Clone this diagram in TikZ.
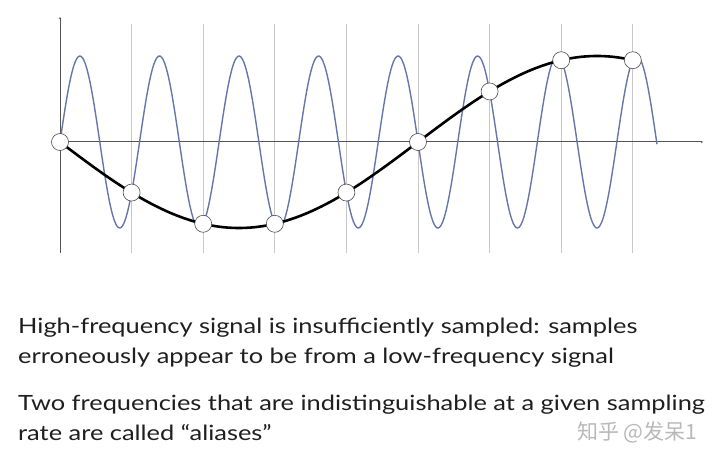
\documentclass[tikz,border=0pt]{standalone}
\usepackage{fontspec}
\setmainfont{Lato}[FakeStretch=1.21]
\newfontfamily\cjkfont{Noto Sans CJK SC}
\usepackage{xcolor}
\usepackage{tikz}
\usetikzlibrary{arrows.meta, positioning, calc}
\definecolor{sigblue}{RGB}{102,118,170}
\definecolor{axisgray}{RGB}{85,85,85}
\definecolor{gridgray}{RGB}{200,200,200}

\begin{document}
\begin{tikzpicture}[x=1pt, y=1pt,
        sample/.style={circle, draw=black!70, fill=white, line width=0.6pt, minimum size=17pt, inner sep=0pt},
        caption/.style={anchor=base west, align=left, inner sep=0pt, text=black!88, font=\fontsize{21}{30}\selectfont}]
        \useasboundingbox (-60,-318) rectangle (660,142);
        % grid at the sample positions
        \foreach \n in {1,...,8}
            \draw[gridgray, line width=1pt] (71.6*\n,-111) -- (71.6*\n,118);
        \coordinate (o) at (0,0);
        \coordinate (ytop) at (0,125);
        \coordinate (ybot) at (0,-111);
        \coordinate (xend) at (643,0);
        \draw[axisgray, line width=1pt, -{Stealth[length=2pt, width=2pt]}] (ybot) -- (ytop);
        \draw[axisgray, line width=1pt, -{Stealth[length=2pt, width=2pt]}] (o) -- (xend);
        % high-frequency signal (324 deg per sample step)
        \draw[sigblue, line width=1.4pt, samples=400, domain=0:597]
            plot (\x, {86*sin(4.52514*\x)});
        % low-frequency alias (36 deg per sample step)
        \draw[black, line width=2.6pt, samples=200, domain=0:572.8]
            plot (\x, {-86*sin(0.502793*\x)});
        \foreach \n in {0,...,8}
            \node[sample] (s\n) at (71.6*\n, {-86*sin(36*\n)}) {};

        % base anchor sits on the last line
        \node[caption] (txt1) at (-42,-221) {High-frequency signal is insufficiently sampled: samples\\erroneously appear to be from a low-frequency signal};
        \node[caption] (txt2) at (-42,-298) {Two frequencies that are indistinguishable at a given sampling\\rate are called “aliases”};
        \node[anchor=west, inner sep=0pt, text=black!28, font=\cjkfont\fontsize{21}{21}\selectfont] (mark) at (517,-290) {知乎 @发呆1};
\end{tikzpicture}
\end{document}
